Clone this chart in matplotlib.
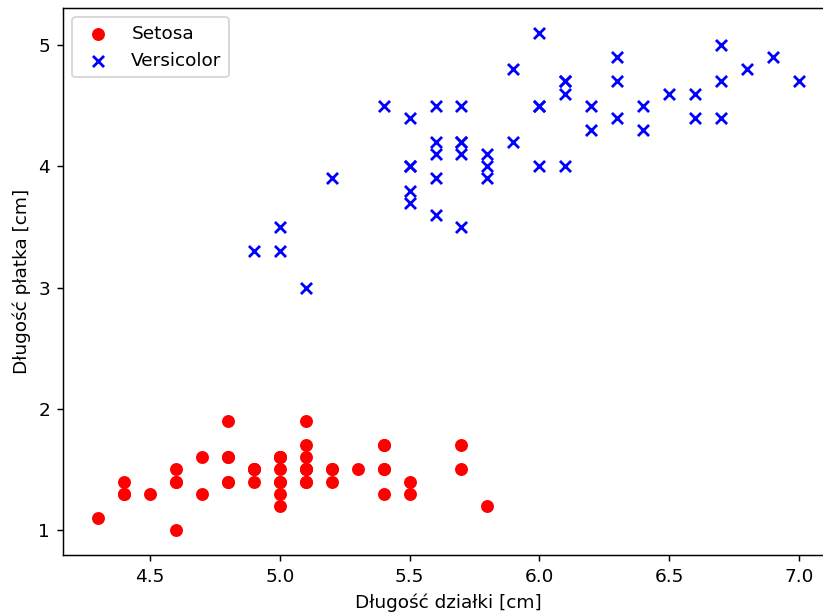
import matplotlib
matplotlib.use("Agg")
import matplotlib.pyplot as plt

setosa_sepal = [5.1, 4.9, 4.7, 4.6, 5.0, 5.4, 4.6, 5.0, 4.4, 4.9, 5.4, 4.8, 4.8, 4.3, 5.8, 5.7, 5.4, 5.1, 5.7, 5.1,
                5.4, 5.1, 4.6, 5.1, 4.8, 5.0, 5.0, 5.2, 5.2, 4.7, 4.8, 5.4, 5.2, 5.5, 4.9, 5.0, 5.5, 4.9, 4.4, 5.1,
                5.0, 4.5, 4.4, 5.0, 5.1, 4.8, 5.1, 4.6, 5.3, 5.0]
setosa_petal = [1.4, 1.4, 1.3, 1.5, 1.4, 1.7, 1.4, 1.5, 1.4, 1.5, 1.5, 1.6, 1.4, 1.1, 1.2, 1.5, 1.3, 1.4, 1.7, 1.5,
                1.7, 1.5, 1.0, 1.7, 1.9, 1.6, 1.6, 1.5, 1.4, 1.6, 1.6, 1.5, 1.5, 1.4, 1.5, 1.2, 1.3, 1.5, 1.3, 1.5,
                1.3, 1.3, 1.3, 1.6, 1.9, 1.4, 1.6, 1.4, 1.5, 1.4]
versi_sepal = [7.0, 6.4, 6.9, 5.5, 6.5, 5.7, 6.3, 4.9, 6.6, 5.2, 5.0, 5.9, 6.0, 6.1, 5.6, 6.7, 5.6, 5.8, 6.2, 5.6,
               5.9, 6.1, 6.3, 6.1, 6.4, 6.6, 6.8, 6.7, 6.0, 5.7, 5.5, 5.5, 5.8, 6.0, 5.4, 6.0, 6.7, 6.3, 5.6, 5.5,
               5.5, 6.1, 5.8, 5.0, 5.6, 5.7, 5.7, 6.2, 5.1, 5.7]
versi_petal = [4.7, 4.5, 4.9, 4.0, 4.6, 4.5, 4.7, 3.3, 4.6, 3.9, 3.5, 4.2, 4.0, 4.7, 3.6, 4.4, 4.5, 4.1, 4.5, 3.9,
               4.8, 4.0, 4.9, 4.7, 4.3, 4.4, 4.8, 5.0, 4.5, 3.5, 3.8, 3.7, 3.9, 5.1, 4.5, 4.5, 4.7, 4.4, 4.1, 4.0,
               4.4, 4.6, 4.0, 3.3, 4.2, 4.2, 4.2, 4.3, 3.0, 4.1]

W, H, DPI = 823, 616, 133
fig = plt.figure(figsize=(W / DPI, H / DPI), dpi=DPI)
ax = fig.add_axes([63 / W, (H - 555) / H, (834 - 63) / W, (555 - 8) / H])
ax.scatter(setosa_sepal, setosa_petal, color='red', marker='o', label='Setosa')
ax.scatter(versi_sepal, versi_petal, color='blue', marker='x', label='Versicolor')
ax.set_xlabel('Długość działki [cm]')
ax.set_ylabel('Długość płatka [cm]')
ax.legend(loc='upper left')
fig.savefig('out.png', dpi=DPI)
